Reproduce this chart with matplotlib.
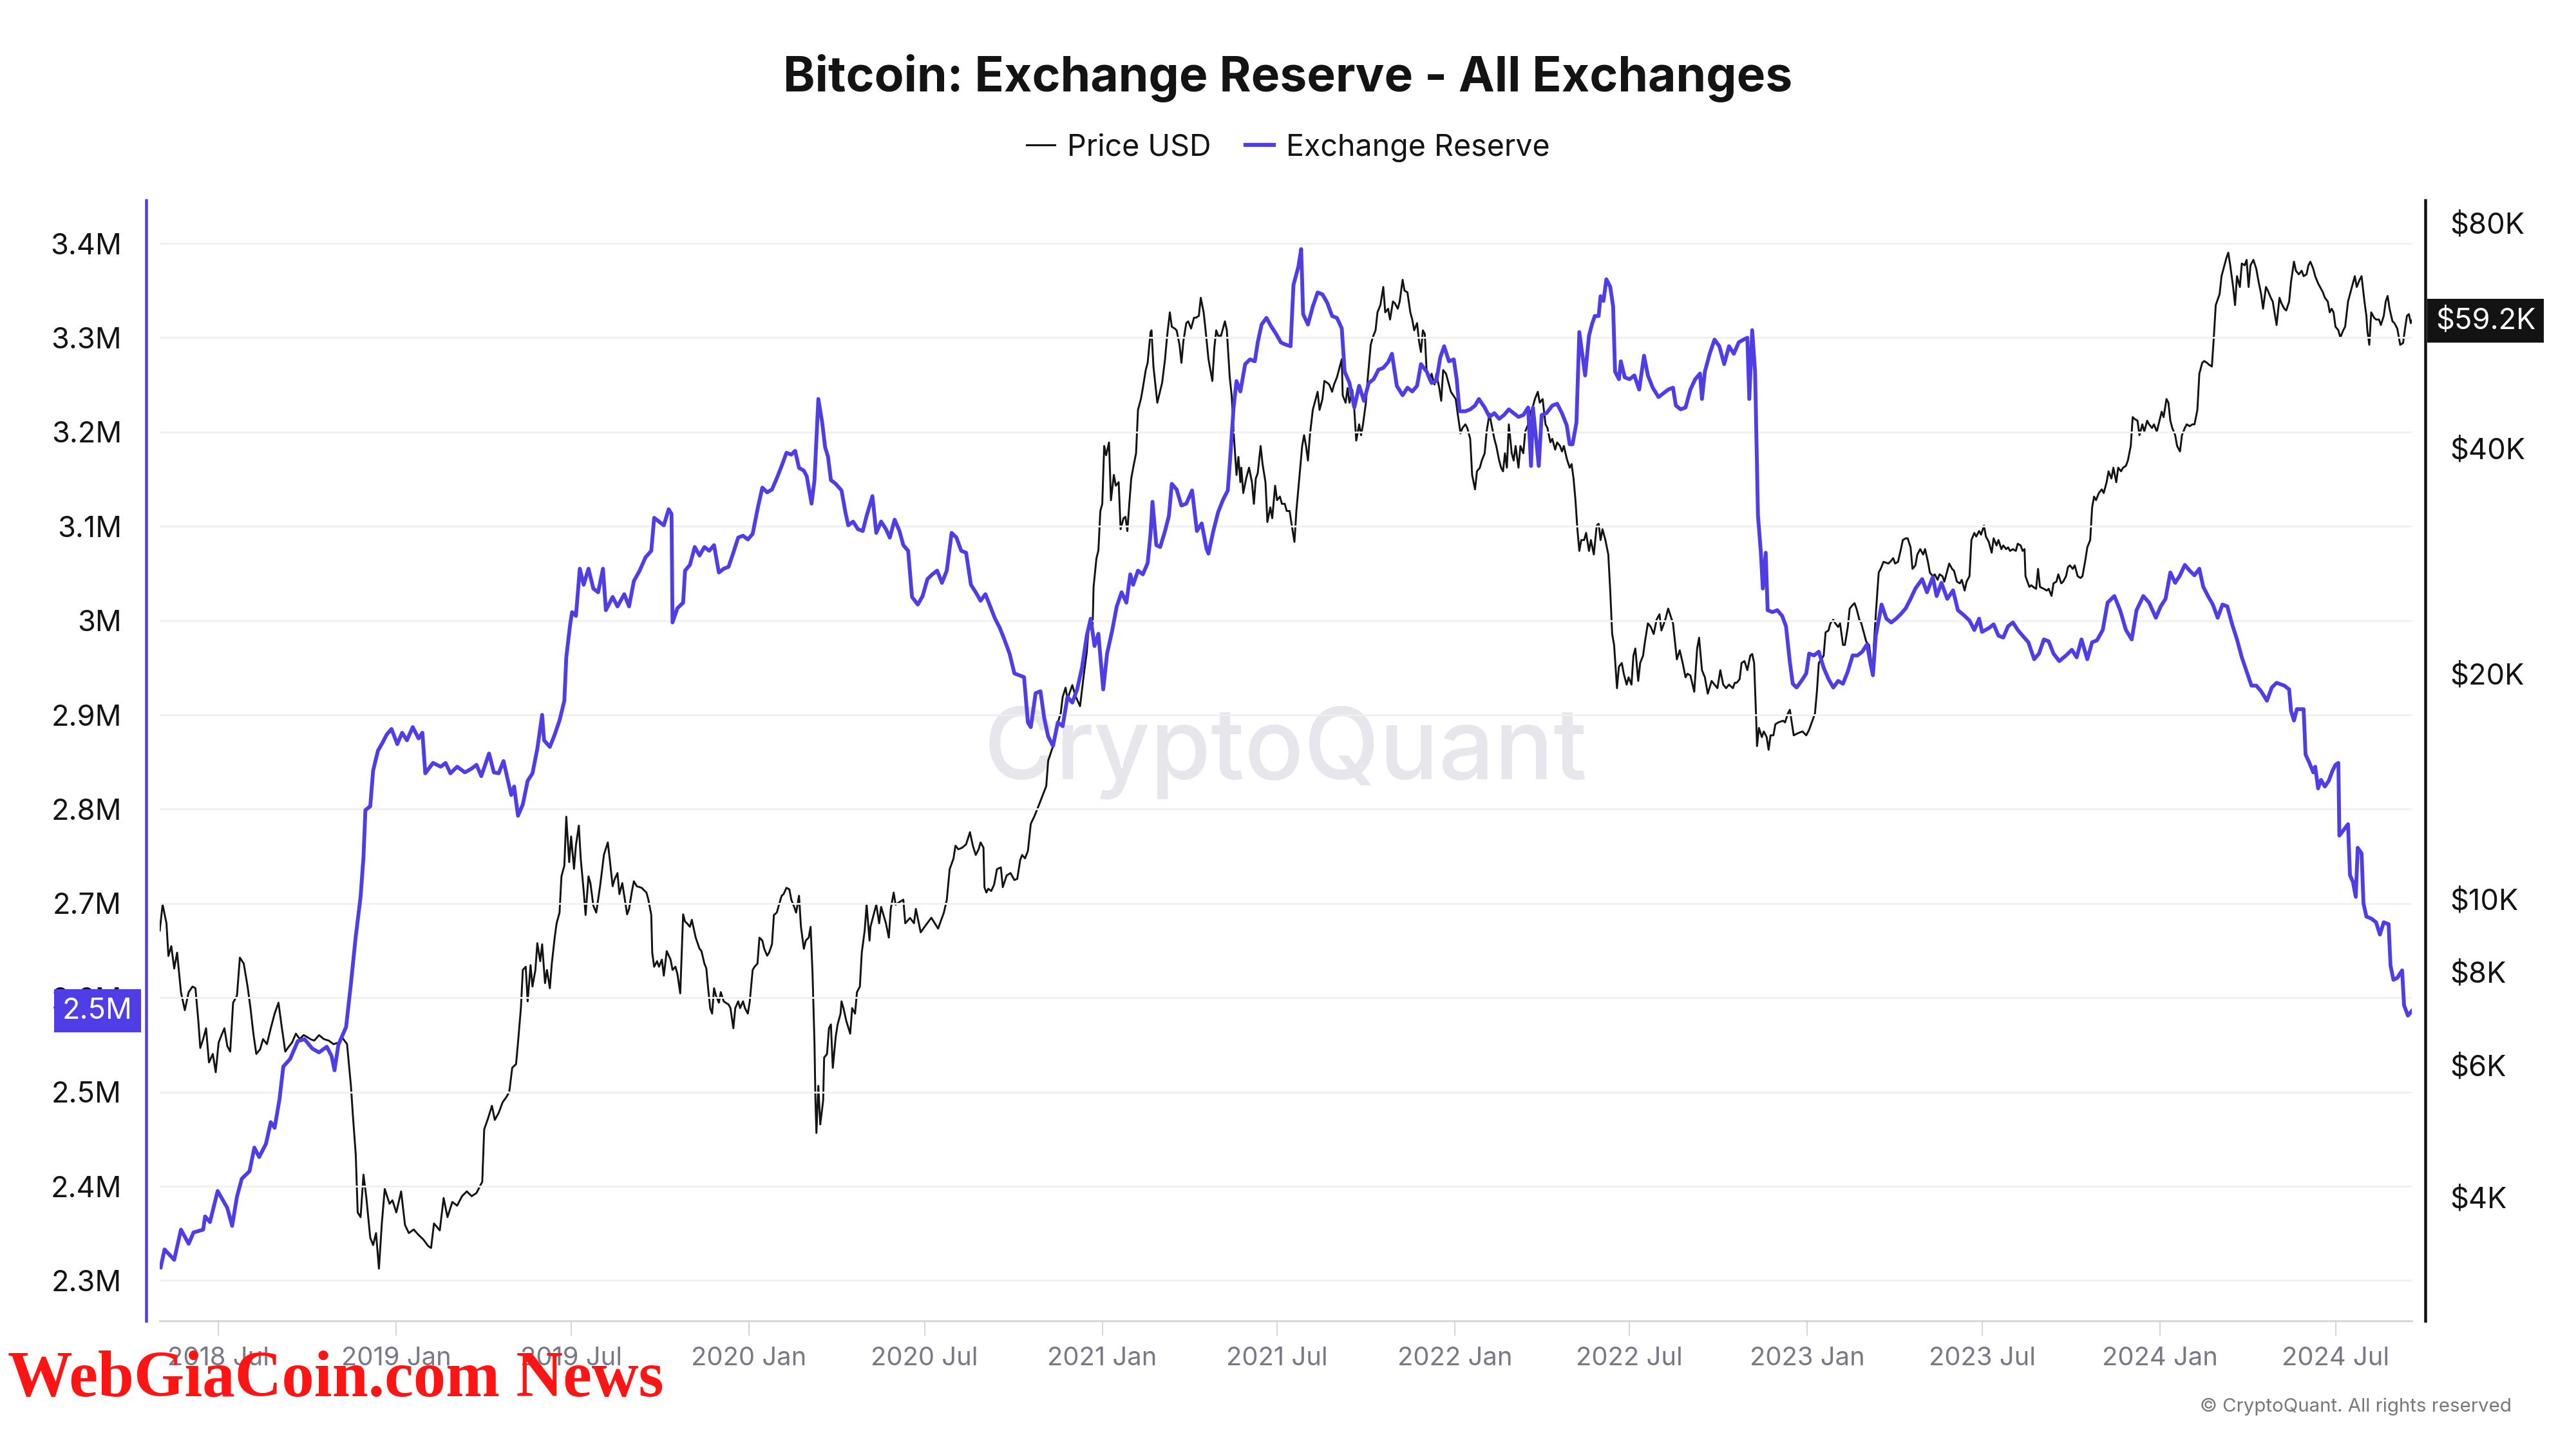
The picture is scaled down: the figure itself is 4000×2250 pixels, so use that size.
import matplotlib

matplotlib.use("Agg")
import matplotlib.pyplot as plt
import matplotlib.transforms as mtransforms
import pandas as pd
from matplotlib.lines import Line2D

plt.rcParams["font.family"] = ["Inter", "DejaVu Sans"]

TITLE = "Bitcoin: Exchange Reserve - All Exchanges"
BLUE = "#4f3ee6"
INK = "#131313"

# exchange reserve, millions of BTC
reserve_points = [
    ("2018-05-02", 2.314), ("2018-05-06", 2.333), ("2018-05-16", 2.322), ("2018-05-23", 2.354),
    ("2018-05-31", 2.339), ("2018-06-05", 2.351), ("2018-06-15", 2.354), ("2018-06-17", 2.368),
    ("2018-06-22", 2.362), ("2018-06-30", 2.395), ("2018-07-10", 2.377), ("2018-07-15", 2.358),
    ("2018-07-20", 2.389), ("2018-07-25", 2.408), ("2018-08-02", 2.416), ("2018-08-07", 2.441),
    ("2018-08-12", 2.431), ("2018-08-19", 2.445), ("2018-08-24", 2.468), ("2018-08-28", 2.462),
    ("2018-09-02", 2.492), ("2018-09-06", 2.527), ("2018-09-13", 2.535), ("2018-09-21", 2.554),
    ("2018-09-28", 2.556), ("2018-10-06", 2.546), ("2018-10-13", 2.542), ("2018-10-21", 2.548),
    ("2018-10-26", 2.538), ("2018-10-29", 2.523), ("2018-11-02", 2.550), ("2018-11-10", 2.569),
    ("2018-11-15", 2.615), ("2018-11-20", 2.665), ("2018-11-25", 2.707), ("2018-11-28", 2.749),
    ("2018-11-30", 2.799), ("2018-12-05", 2.803), ("2018-12-08", 2.841), ("2018-12-13", 2.862),
    ("2018-12-18", 2.871), ("2018-12-22", 2.879), ("2018-12-27", 2.885),
    ("2019-01-02", 2.869), ("2019-01-07", 2.881), ("2019-01-12", 2.873), ("2019-01-18", 2.887),
    ("2019-01-24", 2.875), ("2019-01-28", 2.881), ("2019-01-31", 2.838), ("2019-02-08", 2.849),
    ("2019-02-16", 2.845), ("2019-02-21", 2.849), ("2019-02-26", 2.838), ("2019-03-05", 2.845),
    ("2019-03-13", 2.839), ("2019-03-20", 2.843), ("2019-03-25", 2.847), ("2019-03-30", 2.835),
    ("2019-04-07", 2.859), ("2019-04-12", 2.839), ("2019-04-17", 2.838), ("2019-04-22", 2.851),
    ("2019-04-30", 2.815), ("2019-05-03", 2.824), ("2019-05-07", 2.793), ("2019-05-12", 2.805),
    ("2019-05-17", 2.830), ("2019-05-22", 2.838), ("2019-05-27", 2.864), ("2019-06-01", 2.900),
    ("2019-06-03", 2.873), ("2019-06-09", 2.866), ("2019-06-14", 2.879), ("2019-06-19", 2.894),
    ("2019-06-24", 2.915), ("2019-06-26", 2.961), ("2019-06-30", 2.996), ("2019-07-02", 3.009),
    ("2019-07-06", 3.005), ("2019-07-10", 3.055), ("2019-07-14", 3.038), ("2019-07-19", 3.055),
    ("2019-07-24", 3.034), ("2019-07-29", 3.030), ("2019-08-03", 3.055), ("2019-08-06", 3.011),
    ("2019-08-13", 3.025), ("2019-08-18", 3.015), ("2019-08-25", 3.028), ("2019-08-30", 3.015),
    ("2019-09-04", 3.042), ("2019-09-10", 3.053), ("2019-09-16", 3.067), ("2019-09-22", 3.074),
    ("2019-09-25", 3.109), ("2019-09-30", 3.105), ("2019-10-05", 3.101), ("2019-10-10", 3.118),
    ("2019-10-13", 3.113), ("2019-10-14", 2.998), ("2019-10-19", 3.013), ("2019-10-25", 3.019),
    ("2019-10-27", 3.053), ("2019-11-01", 3.059), ("2019-11-06", 3.078), ("2019-11-11", 3.069),
    ("2019-11-16", 3.078), ("2019-11-21", 3.074), ("2019-11-26", 3.080), ("2019-12-01", 3.051),
    ("2019-12-06", 3.055), ("2019-12-11", 3.057), ("2019-12-16", 3.072), ("2019-12-21", 3.088),
    ("2019-12-26", 3.090), ("2019-12-31", 3.086),
    ("2020-01-05", 3.092), ("2020-01-10", 3.118), ("2020-01-15", 3.141), ("2020-01-20", 3.136),
    ("2020-01-25", 3.139), ("2020-01-30", 3.151), ("2020-02-04", 3.164), ("2020-02-09", 3.178),
    ("2020-02-14", 3.176), ("2020-02-18", 3.180), ("2020-02-22", 3.162), ("2020-02-27", 3.159),
    ("2020-03-01", 3.153), ("2020-03-06", 3.124), ("2020-03-09", 3.149), ("2020-03-13", 3.235),
    ("2020-03-17", 3.210), ("2020-03-20", 3.184), ("2020-03-23", 3.174), ("2020-03-26", 3.149),
    ("2020-03-31", 3.145), ("2020-04-06", 3.138), ("2020-04-10", 3.115), ("2020-04-13", 3.101),
    ("2020-04-18", 3.105), ("2020-04-23", 3.097), ("2020-04-28", 3.095), ("2020-05-02", 3.111),
    ("2020-05-08", 3.132), ("2020-05-12", 3.093), ("2020-05-17", 3.105), ("2020-05-22", 3.097),
    ("2020-05-26", 3.088), ("2020-05-31", 3.107), ("2020-06-05", 3.095), ("2020-06-09", 3.080),
    ("2020-06-14", 3.074), ("2020-06-18", 3.025), ("2020-06-24", 3.017), ("2020-06-29", 3.026),
    ("2020-07-04", 3.044), ("2020-07-09", 3.049), ("2020-07-14", 3.053), ("2020-07-19", 3.040),
    ("2020-07-24", 3.053), ("2020-07-29", 3.093), ("2020-08-03", 3.088), ("2020-08-08", 3.074),
    ("2020-08-13", 3.072), ("2020-08-18", 3.038), ("2020-08-23", 3.030), ("2020-08-28", 3.021),
    ("2020-09-02", 3.028), ("2020-09-07", 3.015), ("2020-09-12", 3.002), ("2020-09-17", 2.992),
    ("2020-09-22", 2.979), ("2020-09-27", 2.965), ("2020-10-02", 2.944), ("2020-10-07", 2.942),
    ("2020-10-12", 2.940), ("2020-10-16", 2.892), ("2020-10-19", 2.887), ("2020-10-24", 2.923),
    ("2020-10-29", 2.925), ("2020-11-02", 2.896), ("2020-11-06", 2.877), ("2020-11-11", 2.867),
    ("2020-11-16", 2.892), ("2020-11-21", 2.888), ("2020-11-26", 2.919), ("2020-12-01", 2.913),
    ("2020-12-06", 2.927), ("2020-12-11", 2.950), ("2020-12-16", 2.984), ("2020-12-20", 3.002),
    ("2020-12-24", 2.973), ("2020-12-28", 2.986),
    ("2021-01-02", 2.927), ("2021-01-06", 2.965), ("2021-01-11", 2.988), ("2021-01-16", 3.015),
    ("2021-01-21", 3.030), ("2021-01-26", 3.019), ("2021-01-30", 3.049), ("2021-02-02", 3.038),
    ("2021-02-07", 3.053), ("2021-02-12", 3.049), ("2021-02-17", 3.061), ("2021-02-20", 3.092),
    ("2021-02-22", 3.126), ("2021-02-26", 3.080), ("2021-03-02", 3.078), ("2021-03-07", 3.095),
    ("2021-03-11", 3.111), ("2021-03-14", 3.145), ("2021-03-19", 3.139), ("2021-03-24", 3.122),
    ("2021-03-29", 3.124), ("2021-04-04", 3.138), ("2021-04-09", 3.095), ("2021-04-14", 3.103),
    ("2021-04-19", 3.076), ("2021-04-21", 3.071), ("2021-04-26", 3.095), ("2021-05-01", 3.115),
    ("2021-05-06", 3.128), ("2021-05-11", 3.138), ("2021-05-14", 3.180), ("2021-05-17", 3.226),
    ("2021-05-20", 3.254), ("2021-05-24", 3.243), ("2021-05-29", 3.272), ("2021-06-03", 3.277),
    ("2021-06-08", 3.275), ("2021-06-11", 3.295), ("2021-06-15", 3.314), ("2021-06-20", 3.321),
    ("2021-06-25", 3.312), ("2021-06-30", 3.304), ("2021-07-05", 3.295), ("2021-07-09", 3.293),
    ("2021-07-15", 3.291), ("2021-07-18", 3.356), ("2021-07-23", 3.375), ("2021-07-26", 3.394),
    ("2021-07-28", 3.325), ("2021-08-02", 3.314), ("2021-08-07", 3.333), ("2021-08-12", 3.348),
    ("2021-08-17", 3.346), ("2021-08-22", 3.337), ("2021-08-27", 3.323), ("2021-09-01", 3.321),
    ("2021-09-06", 3.310), ("2021-09-09", 3.264), ("2021-09-14", 3.252), ("2021-09-19", 3.226),
    ("2021-09-24", 3.249), ("2021-09-29", 3.233), ("2021-10-04", 3.252), ("2021-10-09", 3.256),
    ("2021-10-14", 3.266), ("2021-10-19", 3.268), ("2021-10-24", 3.274), ("2021-10-28", 3.283),
    ("2021-11-02", 3.249), ("2021-11-08", 3.239), ("2021-11-13", 3.247), ("2021-11-18", 3.243),
    ("2021-11-23", 3.249), ("2021-11-27", 3.272), ("2021-12-03", 3.264), ("2021-12-08", 3.252),
    ("2021-12-13", 3.254), ("2021-12-17", 3.279), ("2021-12-21", 3.291), ("2021-12-26", 3.275),
    ("2021-12-31", 3.277),
    ("2022-01-03", 3.256), ("2022-01-06", 3.222), ("2022-01-12", 3.222), ("2022-01-17", 3.224),
    ("2022-01-22", 3.228), ("2022-01-26", 3.235), ("2022-02-01", 3.226), ("2022-02-06", 3.216),
    ("2022-02-11", 3.220), ("2022-02-16", 3.214), ("2022-02-21", 3.218), ("2022-02-26", 3.224),
    ("2022-03-03", 3.220), ("2022-03-08", 3.216), ("2022-03-13", 3.218), ("2022-03-18", 3.226),
    ("2022-03-21", 3.164), ("2022-03-23", 3.226), ("2022-03-29", 3.164), ("2022-04-01", 3.218),
    ("2022-04-06", 3.220), ("2022-04-12", 3.228), ("2022-04-17", 3.230), ("2022-04-22", 3.220),
    ("2022-04-27", 3.207), ("2022-04-30", 3.187), ("2022-05-03", 3.187), ("2022-05-07", 3.210),
    ("2022-05-10", 3.306), ("2022-05-13", 3.283), ("2022-05-16", 3.260), ("2022-05-20", 3.302),
    ("2022-05-23", 3.314), ("2022-05-26", 3.323), ("2022-05-30", 3.323), ("2022-06-01", 3.344),
    ("2022-06-04", 3.339), ("2022-06-07", 3.362), ("2022-06-11", 3.354), ("2022-06-14", 3.333),
    ("2022-06-16", 3.264), ("2022-06-20", 3.256), ("2022-06-22", 3.275), ("2022-06-26", 3.258),
    ("2022-07-01", 3.256), ("2022-07-06", 3.260), ("2022-07-11", 3.245), ("2022-07-16", 3.281),
    ("2022-07-20", 3.260), ("2022-07-25", 3.247), ("2022-07-31", 3.237), ("2022-08-10", 3.245),
    ("2022-08-15", 3.247), ("2022-08-18", 3.228), ("2022-08-23", 3.224), ("2022-08-28", 3.226),
    ("2022-09-02", 3.245), ("2022-09-07", 3.256), ("2022-09-12", 3.262), ("2022-09-14", 3.235),
    ("2022-09-17", 3.264), ("2022-09-22", 3.283), ("2022-09-27", 3.298), ("2022-10-02", 3.291),
    ("2022-10-07", 3.272), ("2022-10-12", 3.291), ("2022-10-17", 3.283), ("2022-10-22", 3.295),
    ("2022-10-27", 3.298), ("2022-10-31", 3.300), ("2022-11-02", 3.235), ("2022-11-05", 3.308),
    ("2022-11-08", 3.264), ("2022-11-11", 3.111), ("2022-11-14", 3.072), ("2022-11-16", 3.034),
    ("2022-11-19", 3.072), ("2022-11-21", 3.011), ("2022-11-26", 3.009), ("2022-12-01", 3.011),
    ("2022-12-06", 3.005), ("2022-12-10", 2.994), ("2022-12-14", 2.956), ("2022-12-17", 2.933),
    ("2022-12-21", 2.929), ("2022-12-26", 2.936), ("2022-12-31", 2.944),
    ("2023-01-03", 2.965), ("2023-01-08", 2.963), ("2023-01-13", 2.967), ("2023-01-18", 2.950),
    ("2023-01-23", 2.938), ("2023-01-28", 2.929), ("2023-02-02", 2.936), ("2023-02-07", 2.933),
    ("2023-02-12", 2.946), ("2023-02-17", 2.963), ("2023-02-22", 2.963), ("2023-02-27", 2.967),
    ("2023-03-04", 2.975), ("2023-03-07", 2.957), ("2023-03-10", 2.942), ("2023-03-13", 2.984),
    ("2023-03-19", 3.017), ("2023-03-24", 3.002), ("2023-03-29", 2.998), ("2023-04-03", 3.002),
    ("2023-04-08", 3.007), ("2023-04-13", 3.013), ("2023-04-18", 3.023), ("2023-04-23", 3.034),
    ("2023-04-30", 3.044), ("2023-05-05", 3.030), ("2023-05-11", 3.046), ("2023-05-15", 3.026),
    ("2023-05-20", 3.040), ("2023-05-26", 3.023), ("2023-06-01", 3.032), ("2023-06-06", 3.011),
    ("2023-06-13", 3.005), ("2023-06-18", 3.000), ("2023-06-23", 2.990), ("2023-06-28", 3.002),
    ("2023-07-01", 2.988), ("2023-07-08", 2.992), ("2023-07-13", 2.996), ("2023-07-18", 2.984),
    ("2023-07-23", 2.982), ("2023-07-28", 2.994), ("2023-08-02", 2.998), ("2023-08-07", 2.990),
    ("2023-08-12", 2.984), ("2023-08-18", 2.977), ("2023-08-24", 2.959), ("2023-08-29", 2.965),
    ("2023-09-03", 2.980), ("2023-09-08", 2.978), ("2023-09-13", 2.965), ("2023-09-19", 2.957),
    ("2023-09-26", 2.963), ("2023-10-02", 2.969), ("2023-10-07", 2.961), ("2023-10-12", 2.980),
    ("2023-10-18", 2.959), ("2023-10-23", 2.977), ("2023-10-28", 2.979), ("2023-11-03", 2.990),
    ("2023-11-08", 3.019), ("2023-11-15", 3.026), ("2023-11-21", 3.011), ("2023-11-27", 2.990),
    ("2023-12-03", 2.980), ("2023-12-08", 3.011), ("2023-12-15", 3.026), ("2023-12-21", 3.019),
    ("2023-12-28", 3.003),
    ("2024-01-02", 3.015), ("2024-01-07", 3.023), ("2024-01-12", 3.051), ("2024-01-17", 3.040),
    ("2024-01-22", 3.048), ("2024-01-27", 3.059), ("2024-02-01", 3.053), ("2024-02-06", 3.048),
    ("2024-02-11", 3.055), ("2024-02-15", 3.036), ("2024-02-20", 3.026), ("2024-02-25", 3.017),
    ("2024-03-01", 3.003), ("2024-03-06", 3.017), ("2024-03-11", 3.015), ("2024-03-16", 2.996),
    ("2024-03-21", 2.980), ("2024-03-26", 2.961), ("2024-03-31", 2.946), ("2024-04-05", 2.931),
    ("2024-04-10", 2.931), ("2024-04-15", 2.925), ("2024-04-21", 2.915), ("2024-04-26", 2.929),
    ("2024-05-01", 2.934), ("2024-05-09", 2.931), ("2024-05-14", 2.927), ("2024-05-16", 2.904),
    ("2024-05-19", 2.894), ("2024-05-22", 2.906), ("2024-05-29", 2.906), ("2024-05-31", 2.858),
    ("2024-06-04", 2.849), ("2024-06-08", 2.839), ("2024-06-10", 2.845), ("2024-06-13", 2.822),
    ("2024-06-16", 2.831), ("2024-06-20", 2.824), ("2024-06-24", 2.830), ("2024-06-28", 2.841),
    ("2024-07-01", 2.847), ("2024-07-04", 2.849), ("2024-07-05", 2.772), ("2024-07-08", 2.776),
    ("2024-07-11", 2.780), ("2024-07-14", 2.784), ("2024-07-16", 2.730), ("2024-07-19", 2.723),
    ("2024-07-22", 2.707), ("2024-07-24", 2.759), ("2024-07-28", 2.753), ("2024-07-30", 2.700),
    ("2024-08-02", 2.686), ("2024-08-07", 2.684), ("2024-08-12", 2.680), ("2024-08-16", 2.667),
    ("2024-08-20", 2.680), ("2024-08-25", 2.678), ("2024-08-27", 2.634), ("2024-08-30", 2.619),
    ("2024-09-03", 2.621), ("2024-09-08", 2.629), ("2024-09-10", 2.592), ("2024-09-14", 2.581),
    ("2024-09-18", 2.586),
]

# BTC price in USD
price_points = [
    ("2018-05-01", 9076), ("2018-05-04", 9830), ("2018-05-08", 9280), ("2018-05-10", 8394),
    ("2018-05-13", 8650), ("2018-05-16", 8075), ("2018-05-19", 8480), ("2018-05-23", 7510),
    ("2018-05-27", 7105), ("2018-05-31", 7510), ("2018-06-04", 7640), ("2018-06-07", 7600),
    ("2018-06-10", 6873), ("2018-06-12", 6325), ("2018-06-15", 6500), ("2018-06-18", 6720),
    ("2018-06-21", 6050), ("2018-06-25", 6210), ("2018-06-28", 5870), ("2018-07-01", 6430),
    ("2018-07-04", 6580), ("2018-07-07", 6720), ("2018-07-10", 6360), ("2018-07-13", 6255),
    ("2018-07-16", 7270), ("2018-07-20", 7430), ("2018-07-23", 8350), ("2018-07-27", 8200),
    ("2018-07-31", 7640), ("2018-08-03", 7150), ("2018-08-06", 6610), ("2018-08-09", 6210),
    ("2018-08-13", 6300), ("2018-08-16", 6500), ("2018-08-20", 6400), ("2018-08-24", 6720),
    ("2018-08-28", 7030), ("2018-09-01", 7270), ("2018-09-04", 6800), ("2018-09-08", 6255),
    ("2018-09-12", 6360), ("2018-09-15", 6430), ("2018-09-19", 6610), ("2018-09-23", 6500),
    ("2018-09-27", 6580), ("2018-09-30", 6550), ("2018-10-04", 6500), ("2018-10-08", 6470),
    ("2018-10-13", 6580), ("2018-10-18", 6500), ("2018-10-23", 6470), ("2018-10-28", 6400),
    ("2018-11-02", 6430), ("2018-11-06", 6530), ("2018-11-11", 6400), ("2018-11-15", 5630),
    ("2018-11-17", 5148), ("2018-11-20", 4556), ("2018-11-22", 3815), ("2018-11-25", 3760),
    ("2018-11-28", 4285), ("2018-12-01", 3988), ("2018-12-05", 3529), ("2018-12-08", 3451),
    ("2018-12-11", 3580), ("2018-12-14", 3210), ("2018-12-17", 3688), ("2018-12-20", 4100),
    ("2018-12-25", 3918), ("2018-12-28", 3960),
    ("2019-01-01", 3815), ("2019-01-06", 4070), ("2019-01-10", 3670), ("2019-01-14", 3580),
    ("2019-01-19", 3620), ("2019-01-24", 3560), ("2019-01-29", 3510), ("2019-02-03", 3440),
    ("2019-02-06", 3420), ("2019-02-09", 3688), ("2019-02-15", 3610), ("2019-02-19", 3988),
    ("2019-02-23", 3760), ("2019-02-28", 3940), ("2019-03-05", 3895), ("2019-03-10", 4010),
    ("2019-03-15", 4070), ("2019-03-20", 4010), ("2019-03-25", 4050), ("2019-03-31", 4193),
    ("2019-04-02", 4925), ("2019-04-06", 5095), ("2019-04-10", 5295), ("2019-04-13", 5070),
    ("2019-04-17", 5180), ("2019-04-21", 5350), ("2019-04-25", 5440), ("2019-04-28", 5530),
    ("2019-05-01", 5950), ("2019-05-05", 6020), ("2019-05-07", 6430), ("2019-05-10", 7150),
    ("2019-05-12", 8040), ("2019-05-15", 8120), ("2019-05-17", 7300), ("2019-05-20", 8160),
    ("2019-05-22", 7640), ("2019-05-25", 8040), ("2019-05-27", 8730), ("2019-05-30", 8260),
    ("2019-06-01", 8700), ("2019-06-04", 7720), ("2019-06-06", 8040), ("2019-06-09", 7600),
    ("2019-06-11", 8200), ("2019-06-14", 8880), ("2019-06-16", 9280), ("2019-06-19", 9590),
    ("2019-06-21", 10720), ("2019-06-24", 11080), ("2019-06-26", 12880), ("2019-06-29", 11200),
    ("2019-07-01", 12120), ("2019-07-04", 10970), ("2019-07-06", 11800), ("2019-07-09", 12530),
    ("2019-07-11", 11300), ("2019-07-14", 10260), ("2019-07-16", 9520), ("2019-07-19", 10720),
    ("2019-07-21", 10500), ("2019-07-24", 9800), ("2019-07-27", 9590), ("2019-07-31", 10400),
    ("2019-08-04", 11460), ("2019-08-08", 11900), ("2019-08-10", 11300), ("2019-08-13", 10400),
    ("2019-08-15", 10620), ("2019-08-18", 10830), ("2019-08-20", 10150), ("2019-08-23", 10500),
    ("2019-08-25", 10100), ("2019-08-28", 9540), ("2019-08-30", 9700), ("2019-09-02", 10250),
    ("2019-09-04", 10560), ("2019-09-07", 10400), ("2019-09-12", 10350), ("2019-09-17", 10200),
    ("2019-09-19", 9980), ("2019-09-22", 9520), ("2019-09-23", 8480), ("2019-09-25", 8120),
    ("2019-09-28", 8260), ("2019-09-30", 8120), ("2019-10-03", 8300), ("2019-10-05", 7900),
    ("2019-10-08", 8520), ("2019-10-12", 8300), ("2019-10-14", 8040), ("2019-10-17", 8120),
    ("2019-10-19", 7950), ("2019-10-22", 7480), ("2019-10-25", 9540), ("2019-10-27", 9330),
    ("2019-10-29", 9280), ("2019-11-01", 9180), ("2019-11-03", 9380), ("2019-11-07", 8880),
    ("2019-11-09", 8730), ("2019-11-11", 8580), ("2019-11-13", 8520), ("2019-11-16", 8200),
    ("2019-11-18", 8080), ("2019-11-20", 7580), ("2019-11-22", 7150), ("2019-11-24", 7030),
    ("2019-11-26", 7600), ("2019-11-28", 7430), ("2019-12-01", 7270), ("2019-12-03", 7510),
    ("2019-12-06", 7300), ("2019-12-08", 7270), ("2019-12-11", 7230), ("2019-12-13", 7150),
    ("2019-12-16", 6720), ("2019-12-18", 7150), ("2019-12-21", 7300), ("2019-12-23", 7150),
    ("2019-12-26", 7300), ("2019-12-28", 7150), ("2019-12-31", 7030),
    ("2020-01-02", 7300), ("2020-01-05", 8040), ("2020-01-07", 8120), ("2020-01-10", 8200),
    ("2020-01-12", 8880), ("2020-01-15", 8800), ("2020-01-17", 8580), ("2020-01-20", 8400),
    ("2020-01-22", 8480), ("2020-01-25", 8700), ("2020-01-27", 9520), ("2020-01-30", 9590),
    ("2020-02-01", 9800), ("2020-02-04", 10100), ("2020-02-06", 10150), ("2020-02-09", 10350),
    ("2020-02-12", 10300), ("2020-02-14", 9980), ("2020-02-17", 9760), ("2020-02-19", 9590),
    ("2020-02-22", 10100), ("2020-02-24", 9180), ("2020-02-27", 8580), ("2020-02-29", 8800),
    ("2020-03-03", 8880), ("2020-03-05", 9180), ("2020-03-07", 7950), ("2020-03-09", 6430),
    ("2020-03-10", 5385), ("2020-03-11", 4870), ("2020-03-13", 5630), ("2020-03-15", 5000),
    ("2020-03-18", 5385), ("2020-03-19", 6140), ("2020-03-22", 6210), ("2020-03-24", 6720),
    ("2020-03-26", 6800), ("2020-03-28", 5950), ("2020-03-31", 6550), ("2020-04-02", 6800),
    ("2020-04-05", 7030), ("2020-04-06", 7300), ("2020-04-08", 7150), ("2020-04-11", 6870),
    ("2020-04-15", 6610), ("2020-04-17", 7150), ("2020-04-20", 7030), ("2020-04-22", 7510),
    ("2020-04-25", 7640), ("2020-04-27", 8480), ("2020-04-30", 9076), ("2020-05-02", 9830),
    ("2020-05-05", 8800), ("2020-05-06", 9180), ("2020-05-12", 9830), ("2020-05-15", 9280),
    ("2020-05-17", 9760), ("2020-05-22", 9280), ("2020-05-25", 8880), ("2020-05-27", 9700),
    ("2020-05-30", 10200), ("2020-06-01", 9830), ("2020-06-09", 9980), ("2020-06-11", 9280),
    ("2020-06-16", 9434), ("2020-06-20", 9281), ("2020-06-22", 9700), ("2020-06-27", 9025),
    ("2020-07-01", 9180), ("2020-07-08", 9440), ("2020-07-15", 9130), ("2020-07-21", 9590),
    ("2020-07-24", 9970), ("2020-07-27", 10960), ("2020-07-31", 11330), ("2020-08-02", 11780),
    ("2020-08-05", 11650), ("2020-08-09", 11710), ("2020-08-13", 11830), ("2020-08-17", 12280),
    ("2020-08-20", 11780), ("2020-08-23", 11450), ("2020-08-26", 11650), ("2020-08-28", 11900),
    ("2020-08-31", 11710), ("2020-09-01", 10370), ("2020-09-03", 10200), ("2020-09-05", 10320),
    ("2020-09-08", 10250), ("2020-09-11", 10450), ("2020-09-14", 10960), ("2020-09-18", 11020),
    ("2020-09-20", 10370), ("2020-09-24", 10750), ("2020-09-28", 10830), ("2020-10-02", 10600),
    ("2020-10-05", 10640), ("2020-10-08", 11270), ("2020-10-10", 11450), ("2020-10-13", 11330),
    ("2020-10-16", 11590), ("2020-10-19", 12600), ("2020-10-23", 12920), ("2020-10-27", 13310),
    ("2020-11-01", 13830), ("2020-11-04", 14150), ("2020-11-06", 15300), ("2020-11-11", 16000),
    ("2020-11-14", 16540), ("2020-11-16", 17200), ("2020-11-19", 17700), ("2020-11-21", 18600),
    ("2020-11-24", 19150), ("2020-11-26", 18500), ("2020-12-01", 19300), ("2020-12-04", 18700),
    ("2020-12-09", 18090), ("2020-12-13", 19980), ("2020-12-16", 21360), ("2020-12-18", 23090),
    ("2020-12-22", 23000), ("2020-12-23", 26100), ("2020-12-26", 28520), ("2020-12-28", 29200),
    ("2020-12-30", 32960),
    ("2021-01-01", 33700), ("2021-01-03", 40260), ("2021-01-05", 39130), ("2021-01-08", 40700),
    ("2021-01-10", 34070), ("2021-01-13", 36830), ("2021-01-15", 35630), ("2021-01-18", 36020),
    ("2021-01-20", 31170), ("2021-01-23", 32240), ("2021-01-25", 32380), ("2021-01-27", 31000),
    ("2021-01-29", 33700), ("2021-01-31", 36430), ("2021-02-02", 37630), ("2021-02-05", 39370),
    ("2021-02-07", 44980), ("2021-02-10", 46510), ("2021-02-12", 48090), ("2021-02-15", 50840),
    ("2021-02-17", 51990), ("2021-02-20", 57130), ("2021-02-21", 57450), ("2021-02-23", 51400),
    ("2021-02-27", 45990), ("2021-03-04", 48890), ("2021-03-07", 52570), ("2021-03-09", 56180),
    ("2021-03-12", 60720), ("2021-03-14", 58090), ("2021-03-17", 57770), ("2021-03-19", 57450),
    ("2021-03-22", 54950), ("2021-03-24", 51990), ("2021-03-26", 55560), ("2021-03-29", 58740),
    ("2021-03-31", 59060), ("2021-04-03", 57770), ("2021-04-06", 59720), ("2021-04-08", 59720),
    ("2021-04-11", 60060), ("2021-04-13", 63500), ("2021-04-16", 60720), ("2021-04-18", 57450),
    ("2021-04-21", 52570), ("2021-04-23", 50840), ("2021-04-25", 49170), ("2021-04-27", 54350),
    ("2021-04-29", 57450), ("2021-05-01", 56500), ("2021-05-04", 56500), ("2021-05-08", 59060),
    ("2021-05-10", 57450), ("2021-05-13", 49720), ("2021-05-15", 47030), ("2021-05-17", 42080),
    ("2021-05-20", 36830), ("2021-05-22", 38930), ("2021-05-24", 36020), ("2021-05-25", 37660),
    ("2021-05-27", 34840), ("2021-05-30", 36430), ("2021-06-02", 37660), ("2021-06-05", 36020),
    ("2021-06-07", 33700), ("2021-06-09", 36430), ("2021-06-11", 37040), ("2021-06-14", 40260),
    ("2021-06-16", 38080), ("2021-06-19", 36020), ("2021-06-21", 31870), ("2021-06-24", 33330),
    ("2021-06-26", 32240), ("2021-06-29", 35630), ("2021-07-01", 34080), ("2021-07-04", 34460),
    ("2021-07-06", 33700), ("2021-07-09", 33700), ("2021-07-11", 32970), ("2021-07-14", 32970),
    ("2021-07-16", 31690), ("2021-07-19", 29980), ("2021-07-21", 32970), ("2021-07-23", 35230),
    ("2021-07-25", 37660), ("2021-07-27", 40260), ("2021-07-29", 41620), ("2021-07-31", 40260),
    ("2021-08-02", 38500), ("2021-08-04", 41620), ("2021-08-07", 44980), ("2021-08-09", 45990),
    ("2021-08-12", 47560), ("2021-08-14", 44980), ("2021-08-17", 46510), ("2021-08-19", 49170),
    ("2021-08-22", 48890), ("2021-08-24", 48630), ("2021-08-27", 47560), ("2021-08-29", 48630),
    ("2021-09-01", 49720), ("2021-09-03", 50840), ("2021-09-06", 52570), ("2021-09-07", 47030),
    ("2021-09-10", 45990), ("2021-09-12", 48090), ("2021-09-14", 45990), ("2021-09-17", 47820),
    ("2021-09-19", 44980), ("2021-09-21", 40930), ("2021-09-24", 43030), ("2021-09-26", 41620),
    ("2021-09-28", 43030), ("2021-10-01", 45990), ("2021-10-03", 49720), ("2021-10-06", 54950),
    ("2021-10-08", 56180), ("2021-10-11", 57450), ("2021-10-13", 60720), ("2021-10-16", 62080),
    ("2021-10-19", 65640), ("2021-10-21", 60720), ("2021-10-24", 61400), ("2021-10-26", 59390),
    ("2021-10-29", 62780), ("2021-10-31", 62430), ("2021-11-03", 61400), ("2021-11-05", 62780),
    ("2021-11-08", 67110), ("2021-11-10", 64910), ("2021-11-13", 64570), ("2021-11-16", 60720),
    ("2021-11-18", 59390), ("2021-11-20", 57450), ("2021-11-23", 58740), ("2021-11-25", 55560),
    ("2021-11-27", 53750), ("2021-11-29", 57450), ("2021-12-01", 56800), ("2021-12-03", 50270),
    ("2021-12-06", 49170), ("2021-12-08", 50270), ("2021-12-11", 48630), ("2021-12-13", 50270),
    ("2021-12-16", 48090), ("2021-12-18", 46250), ("2021-12-20", 50840), ("2021-12-23", 50270),
    ("2021-12-28", 47560),
    ("2022-01-02", 46510), ("2022-01-04", 44490), ("2022-01-07", 41850), ("2022-01-09", 42550),
    ("2022-01-12", 43030), ("2022-01-14", 42550), ("2022-01-17", 41160), ("2022-01-19", 36830),
    ("2022-01-22", 35230), ("2022-01-24", 37240), ("2022-01-27", 37660), ("2022-01-29", 38500),
    ("2022-02-01", 39370), ("2022-02-03", 42080), ("2022-02-06", 44490), ("2022-02-08", 43030),
    ("2022-02-11", 41160), ("2022-02-13", 40260), ("2022-02-16", 38500), ("2022-02-18", 37660),
    ("2022-02-20", 37240), ("2022-02-22", 39370), ("2022-02-24", 37660), ("2022-02-26", 43030),
    ("2022-03-01", 39370), ("2022-03-03", 38500), ("2022-03-05", 40260), ("2022-03-08", 37660),
    ("2022-03-10", 40260), ("2022-03-13", 39370), ("2022-03-15", 42080), ("2022-03-18", 43030),
    ("2022-03-20", 44490), ("2022-03-23", 45490), ("2022-03-25", 46510), ("2022-03-28", 47560),
    ("2022-03-30", 45990), ("2022-04-02", 46510), ("2022-04-05", 43030), ("2022-04-07", 42550),
    ("2022-04-10", 40710), ("2022-04-12", 41160), ("2022-04-15", 39810), ("2022-04-17", 40710),
    ("2022-04-20", 40260), ("2022-04-22", 39590), ("2022-04-24", 40260), ("2022-04-27", 38720),
    ("2022-04-30", 37660), ("2022-05-02", 38080), ("2022-05-04", 36430), ("2022-05-06", 34080),
    ("2022-05-08", 31170), ("2022-05-10", 29160), ("2022-05-12", 30150), ("2022-05-15", 30150),
    ("2022-05-17", 30820), ("2022-05-20", 29160), ("2022-05-22", 30150), ("2022-05-25", 28840),
    ("2022-05-28", 31520), ("2022-05-30", 31690), ("2022-06-01", 30150), ("2022-06-03", 31170),
    ("2022-06-06", 30150), ("2022-06-09", 28840), ("2022-06-11", 25810), ("2022-06-13", 22580),
    ("2022-06-15", 21840), ("2022-06-18", 19120), ("2022-06-20", 20430), ("2022-06-23", 20660),
    ("2022-06-25", 19990), ("2022-06-28", 19330), ("2022-06-30", 19770), ("2022-07-03", 19330),
    ("2022-07-05", 21130), ("2022-07-07", 21600), ("2022-07-10", 19550), ("2022-07-12", 20660),
    ("2022-07-15", 21130), ("2022-07-17", 22080), ("2022-07-20", 23340), ("2022-07-23", 23080),
    ("2022-07-26", 22580), ("2022-07-29", 23600), ("2022-08-01", 24000), ("2022-08-03", 22830),
    ("2022-08-07", 23600), ("2022-08-10", 24420), ("2022-08-15", 23340), ("2022-08-19", 20890),
    ("2022-08-22", 21480), ("2022-08-25", 20660), ("2022-08-28", 19770), ("2022-08-30", 19990),
    ("2022-09-02", 19880), ("2022-09-06", 18910), ("2022-09-09", 21600), ("2022-09-11", 22330),
    ("2022-09-14", 20210), ("2022-09-17", 19770), ("2022-09-20", 18800), ("2022-09-24", 19550),
    ("2022-09-27", 19330), ("2022-09-30", 19120), ("2022-10-03", 20210), ("2022-10-06", 19330),
    ("2022-10-09", 19120), ("2022-10-12", 19330), ("2022-10-16", 19120), ("2022-10-18", 19440),
    ("2022-10-20", 19440), ("2022-10-23", 19660), ("2022-10-25", 20660), ("2022-10-28", 20780),
    ("2022-10-31", 20210), ("2022-11-03", 21130), ("2022-11-05", 21240), ("2022-11-07", 20660),
    ("2022-11-09", 17590), ("2022-11-10", 16000), ("2022-11-12", 16920), ("2022-11-15", 16450),
    ("2022-11-17", 16740), ("2022-11-20", 16450), ("2022-11-22", 15820), ("2022-11-24", 16540),
    ("2022-11-27", 16540), ("2022-11-29", 17110), ("2022-12-02", 17210), ("2022-12-07", 17300),
    ("2022-12-09", 17210), ("2022-12-12", 17690), ("2022-12-14", 17890), ("2022-12-18", 16540),
    ("2022-12-22", 16640), ("2022-12-27", 16740), ("2022-12-31", 16540),
    ("2023-01-03", 16830), ("2023-01-09", 17690), ("2023-01-11", 18910), ("2023-01-13", 20660),
    ("2023-01-18", 21130), ("2023-01-20", 22700), ("2023-01-23", 22830), ("2023-01-25", 23340),
    ("2023-01-28", 23600), ("2023-01-30", 23340), ("2023-02-02", 23080), ("2023-02-04", 23340),
    ("2023-02-07", 21840), ("2023-02-09", 21840), ("2023-02-12", 23080), ("2023-02-14", 24420),
    ("2023-02-17", 24690), ("2023-02-19", 24830), ("2023-02-21", 24420), ("2023-02-24", 23600),
    ("2023-02-26", 23340), ("2023-03-01", 22580), ("2023-03-03", 22080), ("2023-03-06", 21840),
    ("2023-03-10", 19990), ("2023-03-11", 21840), ("2023-03-13", 24000), ("2023-03-16", 27280),
    ("2023-03-18", 27590), ("2023-03-21", 28200), ("2023-03-26", 28050), ("2023-03-28", 28200),
    ("2023-03-31", 28520), ("2023-04-02", 28050), ("2023-04-05", 28200), ("2023-04-08", 29320),
    ("2023-04-10", 30150), ("2023-04-13", 30310), ("2023-04-15", 30310), ("2023-04-18", 29480),
    ("2023-04-20", 27590), ("2023-04-23", 27890), ("2023-04-25", 28840), ("2023-04-28", 29320),
    ("2023-05-01", 28840), ("2023-05-03", 29320), ("2023-05-06", 28200), ("2023-05-08", 27280),
    ("2023-05-11", 26980), ("2023-05-13", 27130), ("2023-05-16", 26680), ("2023-05-18", 27130),
    ("2023-05-21", 26980), ("2023-05-23", 26530), ("2023-05-26", 27430), ("2023-05-28", 28050),
    ("2023-05-31", 27590), ("2023-06-02", 27430), ("2023-06-05", 26530), ("2023-06-08", 26390),
    ("2023-06-10", 26680), ("2023-06-13", 25810), ("2023-06-15", 26530), ("2023-06-18", 26980),
    ("2023-06-20", 30150), ("2023-06-23", 30820), ("2023-06-25", 30480), ("2023-06-28", 31000),
    ("2023-06-30", 30650), ("2023-07-03", 31520), ("2023-07-05", 30480), ("2023-07-08", 29980),
    ("2023-07-11", 29000), ("2023-07-13", 30310), ("2023-07-16", 29650), ("2023-07-18", 30150),
    ("2023-07-21", 29320), ("2023-07-23", 29650), ("2023-07-26", 29320), ("2023-07-28", 29480),
    ("2023-07-30", 29160), ("2023-08-02", 29320), ("2023-08-05", 29160), ("2023-08-07", 29810),
    ("2023-08-10", 29650), ("2023-08-12", 29160), ("2023-08-14", 29320), ("2023-08-15", 26980),
    ("2023-08-19", 26100), ("2023-08-21", 26240), ("2023-08-23", 26100), ("2023-08-26", 25950),
    ("2023-08-28", 27590), ("2023-08-30", 26100), ("2023-09-03", 25950), ("2023-09-06", 25810),
    ("2023-09-08", 25950), ("2023-09-11", 25390), ("2023-09-13", 26390), ("2023-09-16", 26530),
    ("2023-09-18", 27130), ("2023-09-21", 26390), ("2023-09-23", 26530), ("2023-09-26", 26980),
    ("2023-09-28", 27740), ("2023-09-30", 27890), ("2023-10-03", 27590), ("2023-10-05", 27890),
    ("2023-10-08", 26980), ("2023-10-11", 26830), ("2023-10-13", 26980), ("2023-10-16", 28360),
    ("2023-10-18", 29480), ("2023-10-21", 30150), ("2023-10-23", 33330), ("2023-10-25", 34460),
    ("2023-10-27", 34080), ("2023-10-30", 34840), ("2023-11-02", 35230), ("2023-11-04", 34840),
    ("2023-11-07", 36020), ("2023-11-09", 37240), ("2023-11-12", 36430), ("2023-11-14", 37660),
    ("2023-11-17", 36020), ("2023-11-19", 37660), ("2023-11-22", 37240), ("2023-11-24", 37660),
    ("2023-11-27", 37870), ("2023-11-29", 38500), ("2023-12-02", 40260), ("2023-12-04", 44000),
    ("2023-12-06", 43750), ("2023-12-09", 43510), ("2023-12-11", 41620), ("2023-12-14", 43030),
    ("2023-12-16", 42080), ("2023-12-19", 43510), ("2023-12-21", 43030), ("2023-12-24", 42550),
    ("2023-12-26", 43030), ("2023-12-29", 42080),
    ("2024-01-03", 44730), ("2024-01-05", 44000), ("2024-01-08", 46510), ("2024-01-10", 45990),
    ("2024-01-12", 43510), ("2024-01-14", 42550), ("2024-01-17", 41620), ("2024-01-19", 40260),
    ("2024-01-22", 39590), ("2024-01-24", 41620), ("2024-01-27", 42550), ("2024-01-29", 43030),
    ("2024-02-01", 42790), ("2024-02-04", 43030), ("2024-02-06", 43030), ("2024-02-09", 44980),
    ("2024-02-11", 50270), ("2024-02-14", 51990), ("2024-02-16", 52280), ("2024-02-19", 51990),
    ("2024-02-21", 51690), ("2024-02-24", 51400), ("2024-02-26", 56180), ("2024-02-28", 62080),
    ("2024-03-03", 64210), ("2024-03-05", 67860), ("2024-03-07", 69400), ("2024-03-10", 71740),
    ("2024-03-12", 72940), ("2024-03-14", 70170), ("2024-03-17", 65640), ("2024-03-19", 62080),
    ("2024-03-21", 67860), ("2024-03-24", 65640), ("2024-03-26", 70560), ("2024-03-29", 70170),
    ("2024-03-31", 71350), ("2024-04-02", 65640), ("2024-04-04", 70170), ("2024-04-07", 71350),
    ("2024-04-10", 69400), ("2024-04-12", 67110), ("2024-04-15", 64210), ("2024-04-17", 61400),
    ("2024-04-20", 65640), ("2024-04-22", 64910), ("2024-04-25", 63500), ("2024-04-27", 62780),
    ("2024-05-01", 58410), ("2024-05-04", 63500), ("2024-05-06", 62430), ("2024-05-09", 61400),
    ("2024-05-11", 61060), ("2024-05-14", 62780), ("2024-05-16", 66740), ("2024-05-19", 70950),
    ("2024-05-21", 69010), ("2024-05-24", 68240), ("2024-05-27", 69010), ("2024-05-29", 67860),
    ("2024-06-01", 68240), ("2024-06-03", 70170), ("2024-06-05", 70950), ("2024-06-08", 69400),
    ("2024-06-10", 67860), ("2024-06-13", 66370), ("2024-06-15", 65640), ("2024-06-18", 64570),
    ("2024-06-20", 63500), ("2024-06-23", 62780), ("2024-06-25", 60720), ("2024-06-27", 61400),
    ("2024-06-29", 60720), ("2024-07-01", 58090), ("2024-07-04", 57450), ("2024-07-06", 56180),
    ("2024-07-09", 57450), ("2024-07-11", 58090), ("2024-07-14", 62780), ("2024-07-17", 64910),
    ("2024-07-19", 66370), ("2024-07-21", 67860), ("2024-07-23", 65640), ("2024-07-26", 67110),
    ("2024-07-28", 67860), ("2024-07-31", 62780), ("2024-08-02", 60060), ("2024-08-03", 57450),
    ("2024-08-05", 54950), ("2024-08-07", 60720), ("2024-08-10", 59720), ("2024-08-12", 59390),
    ("2024-08-15", 59390), ("2024-08-17", 58410), ("2024-08-20", 60060), ("2024-08-22", 62780),
    ("2024-08-24", 63860), ("2024-08-26", 61400), ("2024-08-29", 59060), ("2024-08-31", 58740),
    ("2024-09-03", 57770), ("2024-09-06", 54950), ("2024-09-09", 55260), ("2024-09-11", 57770),
    ("2024-09-13", 60060), ("2024-09-15", 60390), ("2024-09-17", 58740), ("2024-09-18", 59200),
]

reserve_ticks = [2.3, 2.4, 2.5, 2.6, 2.7, 2.8, 2.9, 3.0, 3.1, 3.2, 3.3, 3.4]
reserve_tick_labels = ["2.3M", "2.4M", "2.5M", "2.6M", "2.7M", "2.8M",
                       "2.9M", "3M", "3.1M", "3.2M", "3.3M", "3.4M"]
price_ticks = [4000, 6000, 8000, 10000, 20000, 40000, 80000]
price_tick_labels = ["$4K", "$6K", "$8K", "$10K", "$20K", "$40K", "$80K"]
x_ticks = ["2018-07-01", "2019-01-01", "2019-07-01", "2020-01-01", "2020-07-01",
           "2021-01-01", "2021-07-01", "2022-01-01", "2022-07-01", "2023-01-01",
           "2023-07-01", "2024-01-01", "2024-07-01"]
x_tick_labels = ["2018 Jul", "2019 Jan", "2019 Jul", "2020 Jan", "2020 Jul",
                 "2021 Jan", "2021 Jul", "2022 Jan", "2022 Jul", "2023 Jan",
                 "2023 Jul", "2024 Jan", "2024 Jul"]
last_reserve_label = "2.5M"
last_price_label = "$59.2K"

res = pd.DataFrame(reserve_points, columns=["date", "reserve"])
res["date"] = pd.to_datetime(res["date"])
res = res.sort_values("date")
px = pd.DataFrame(price_points, columns=["date", "price"])
px["date"] = pd.to_datetime(px["date"])
px = px.sort_values("date")

fig = plt.figure(figsize=(16, 9), dpi=250)
ax = fig.add_axes([0.062, 0.0884, 0.87425, 0.7734])
ax2 = ax.twinx()

# reserve drawn above price, like the original
ax.set_zorder(ax2.get_zorder() + 1)
ax.patch.set_visible(False)
ax2.patch.set_visible(False)

ax.plot(res["date"], res["reserve"], color=BLUE, lw=1.7, solid_joinstyle="round", zorder=3)
ax2.plot(px["date"], px["price"], color=INK, lw=0.85, solid_joinstyle="round", zorder=2)

ax.set_xlim(pd.Timestamp("2018-05-01"), pd.Timestamp("2024-09-18"))
ax.set_ylim(2.2572, 3.4458)
ax2.set_yscale("log")
ax2.set_ylim(2733, 85700)

ax.set_yticks(reserve_ticks)
ax.set_yticklabels(reserve_tick_labels)
ax2.set_yticks(price_ticks)
ax2.set_yticklabels(price_tick_labels)
ax2.yaxis.set_minor_locator(matplotlib.ticker.NullLocator())
ax.set_xticks(pd.to_datetime(x_ticks))
ax.set_xticklabels(x_tick_labels)

ax.grid(axis="y", color="#f0f0f3", lw=0.8)
ax.set_axisbelow(True)

for s in ["top", "right"]:
    ax.spines[s].set_visible(False)
ax.spines["left"].set_color(BLUE)
ax.spines["left"].set_linewidth(1.3)
ax.spines["left"].set_position(("outward", 6))
ax.spines["bottom"].set_color("#d4d4dc")
ax.spines["bottom"].set_linewidth(0.8)
for s in ["top", "left", "bottom"]:
    ax2.spines[s].set_visible(False)
ax2.spines["right"].set_color(INK)
ax2.spines["right"].set_linewidth(1.3)
ax2.spines["right"].set_position(("outward", 6))

ax.tick_params(axis="y", length=0, pad=11, labelsize=13, labelcolor=INK)
ax2.tick_params(axis="y", length=0, pad=11, labelsize=13, labelcolor=INK)
ax.tick_params(axis="x", length=6.6, width=0.6, color="#d4d4dc", pad=5,
               labelsize=11.5, labelcolor="#787886")

# watermark
ax2.text(0.5, 0.5075, "CryptoQuant", transform=ax2.transAxes, ha="center", va="center",
         fontsize=44, color="#e6e6ec", fontweight="medium", zorder=0.5)

# current value tags on both axes
tr_left = mtransforms.blended_transform_factory(fig.transFigure, ax.transData)
fig.text(0.0515, res["reserve"].iloc[-1], last_reserve_label, transform=tr_left,
         ha="right", va="center", fontsize=13, color="white",
         bbox=dict(boxstyle="square,pad=0.28", fc=BLUE, ec="none"))
tr_right = mtransforms.blended_transform_factory(fig.transFigure, ax2.transData)
fig.text(0.9455, px["price"].iloc[-1], last_price_label, transform=tr_right,
         ha="left", va="center", fontsize=13, color="white",
         bbox=dict(boxstyle="square,pad=0.28", fc=INK, ec="none"))

fig.text(0.5, 0.946, TITLE, ha="center", va="center", fontsize=21.6, fontweight="bold", color=INK)

handles = [Line2D([], [], color=INK, lw=0.9), Line2D([], [], color=BLUE, lw=1.8)]
fig.legend(handles, ["Price USD", "Exchange Reserve"], loc="center", bbox_to_anchor=(0.5, 0.898),
           ncol=2, frameon=False, fontsize=13.4, handlelength=0.95, handletextpad=0.4,
           columnspacing=1.15, labelcolor=INK)

fig.text(0.975, 0.0293, "\u00a9 CryptoQuant. All rights reserved", ha="right", va="center",
         fontsize=8.5, color="#77777f")
fig.text(0.003, 0.0476, "WebGiaCoin.com News", ha="left", va="center", fontsize=29,
         color="#ff1414", family=["Liberation Serif", "DejaVu Serif"], fontweight="bold")

fig.savefig("out.png", dpi=250, facecolor="white")
